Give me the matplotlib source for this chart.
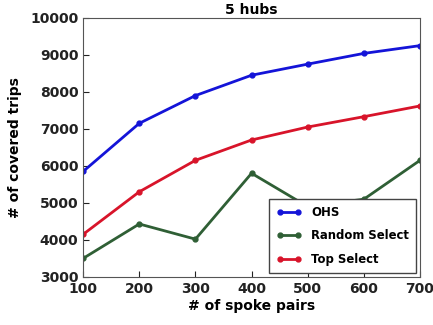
import matplotlib
matplotlib.use("Agg")
import matplotlib.pyplot as plt

spoke_pairs = [100, 200, 300, 400, 500, 600, 700]
ohs = [5850, 7150, 7900, 8450, 8750, 9040, 9250]
random_select = [3500, 4430, 4020, 5800, 4900, 5100, 6150]
top_select = [4150, 5300, 6150, 6700, 7050, 7330, 7620]

plt.rcParams['font.family'] = ['DejaVu Sans']
plt.rcParams['font.weight'] = 'bold'

fig = plt.figure(figsize=(4.33, 3.25), dpi=100)
ax = fig.add_axes([0.192, 0.148, 0.778, 0.797])

ax.plot(spoke_pairs, ohs, color='#1414d8', lw=2, marker='o', ms=3.5, label='OHS')
ax.plot(spoke_pairs, random_select, color='#2f5f35', lw=2, marker='o', ms=3.5,
        label='Random Select')
ax.plot(spoke_pairs, top_select, color='#d8142a', lw=2, marker='o', ms=3.5,
        label='Top Select')

ax.set_xlim(100, 700)
ax.set_ylim(3000, 10000)
ax.set_xticks(spoke_pairs)
ax.set_yticks(range(3000, 10001, 1000))
ax.tick_params(direction='in', labelsize=10, length=4, colors='#222222')
for lab in ax.get_xticklabels() + ax.get_yticklabels():
    lab.set_fontweight('bold')
for s in ax.spines.values():
    s.set_color('#555555')

ax.set_title('5 hubs', fontsize=10, fontweight='bold', pad=3)
ax.set_xlabel('# of spoke pairs', fontsize=10, fontweight='bold', labelpad=2)
ax.set_ylabel('# of covered trips', fontsize=10, fontweight='bold', labelpad=6)

leg = ax.legend(loc='lower right', fontsize=8.4, numpoints=2, handlelength=2.2,
                labelspacing=0.9, borderpad=0.6, fancybox=False, framealpha=1,
                borderaxespad=0.35)
leg.get_frame().set_edgecolor('#444444')
for t in leg.get_texts():
    t.set_fontweight('bold')

fig.savefig('out.png', dpi=100)
